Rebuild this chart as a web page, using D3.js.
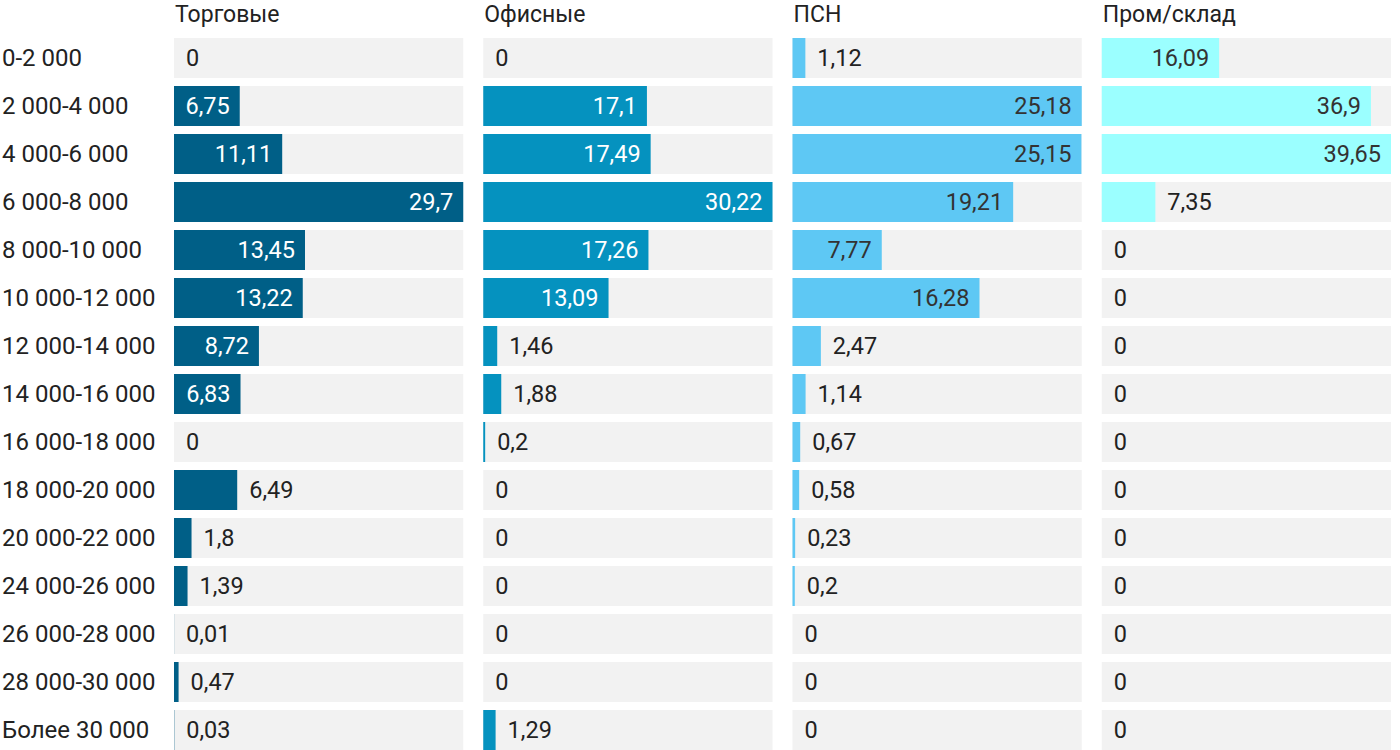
<!DOCTYPE html>
<html lang="ru">
<head>
<meta charset="UTF-8">
<title>chart</title>
<script src="https://d3js.org/d3.v7.min.js"></script>
<style>
  body { margin: 0; background: #fff; }
  text { font-family: Roboto, "Liberation Sans", sans-serif; }
</style>
</head>
<body>
<svg width="1400" height="750"></svg>
<script>
const categories = ["0-2 000", "2 000-4 000", "4 000-6 000", "6 000-8 000", "8 000-10 000",
  "10 000-12 000", "12 000-14 000", "14 000-16 000", "16 000-18 000", "18 000-20 000",
  "20 000-22 000", "24 000-26 000", "26 000-28 000", "28 000-30 000", "Более 30 000"];
const panels = ["Торговые", "Офисные", "ПСН", "Пром/склад"];
const torgovye = [0, 6.75, 11.11, 29.7, 13.45, 13.22, 8.72, 6.83, 0, 6.49, 1.8, 1.39, 0.01, 0.47, 0.03];
const ofisnye = [0, 17.1, 17.49, 30.22, 17.26, 13.09, 1.46, 1.88, 0.2, 0, 0, 0, 0, 0, 1.29];
const psn = [1.12, 25.18, 25.15, 19.21, 7.77, 16.28, 2.47, 1.14, 0.67, 0.58, 0.23, 0.2, 0, 0, 0];
const promSklad = [16.09, 36.9, 39.65, 7.35, 0, 0, 0, 0, 0, 0, 0, 0, 0, 0, 0];
const seriesValues = [torgovye, ofisnye, psn, promSklad];

const colors = ["#005f87", "#0592bf", "#5ec8f4", "#9bffff"];
const insideText = ["#ffffff", "#ffffff", "#333333", "#333333"];
const fs = 23.5;

const svg = d3.select("svg");

// строки
const y = d3.scaleBand()
  .domain(categories)
  .range([38, 750])
  .paddingInner(1 / 6)
  .paddingOuter(0);

// колонки-панели
const px = d3.scaleBand()
  .domain(panels)
  .range([174, 1411])
  .paddingInner(0)
  .paddingOuter(0);
const panelW = px.bandwidth() - 20;

// подписи строк
svg.append("g").selectAll("text")
  .data(categories)
  .join("text")
  .attr("x", 2)
  .attr("y", d => y(d) + y.bandwidth() / 2)
  .attr("dy", "0.35em")
  .attr("font-family", "'Liberation Sans', Arial, sans-serif")
  .attr("font-size", 24)
  .attr("fill", "#222")
  .text(d => d);

panels.forEach((name, pi) => {
  const vals = seriesValues[pi];
  const x = d3.scaleLinear()
    .domain([0, d3.max(vals)])
    .range([0, panelW]);

  const g = svg.append("g")
    .attr("transform", "translate(" + px(name) + ",0)");

  g.append("text")
    .attr("x", 1)
    .attr("y", 22)
    .attr("font-size", fs - 0.5)
    .attr("fill", "#222")
    .text(name);

  const rows = g.selectAll("g.row")
    .data(categories.map((c, i) => ({ c: c, v: vals[i] })))
    .join("g")
    .attr("class", "row")
    .attr("transform", d => "translate(0," + y(d.c) + ")");

  rows.append("rect")
    .attr("width", panelW)
    .attr("height", y.bandwidth())
    .attr("fill", "#f2f2f2");

  rows.append("rect")
    .attr("width", d => x(d.v))
    .attr("height", y.bandwidth())
    .attr("fill", colors[pi]);

  rows.append("text")
    .attr("y", y.bandwidth() / 2)
    .attr("dy", "0.35em")
    .attr("font-size", fs)
    .attr("x", d => x(d.v) > 65 ? x(d.v) - 10 : x(d.v) + 12)
    .attr("text-anchor", d => x(d.v) > 65 ? "end" : "start")
    .attr("fill", d => x(d.v) > 65 ? insideText[pi] : "#222")
    .text(d => String(d.v).replace(".", ","));
});
</script>
</body>
</html>
